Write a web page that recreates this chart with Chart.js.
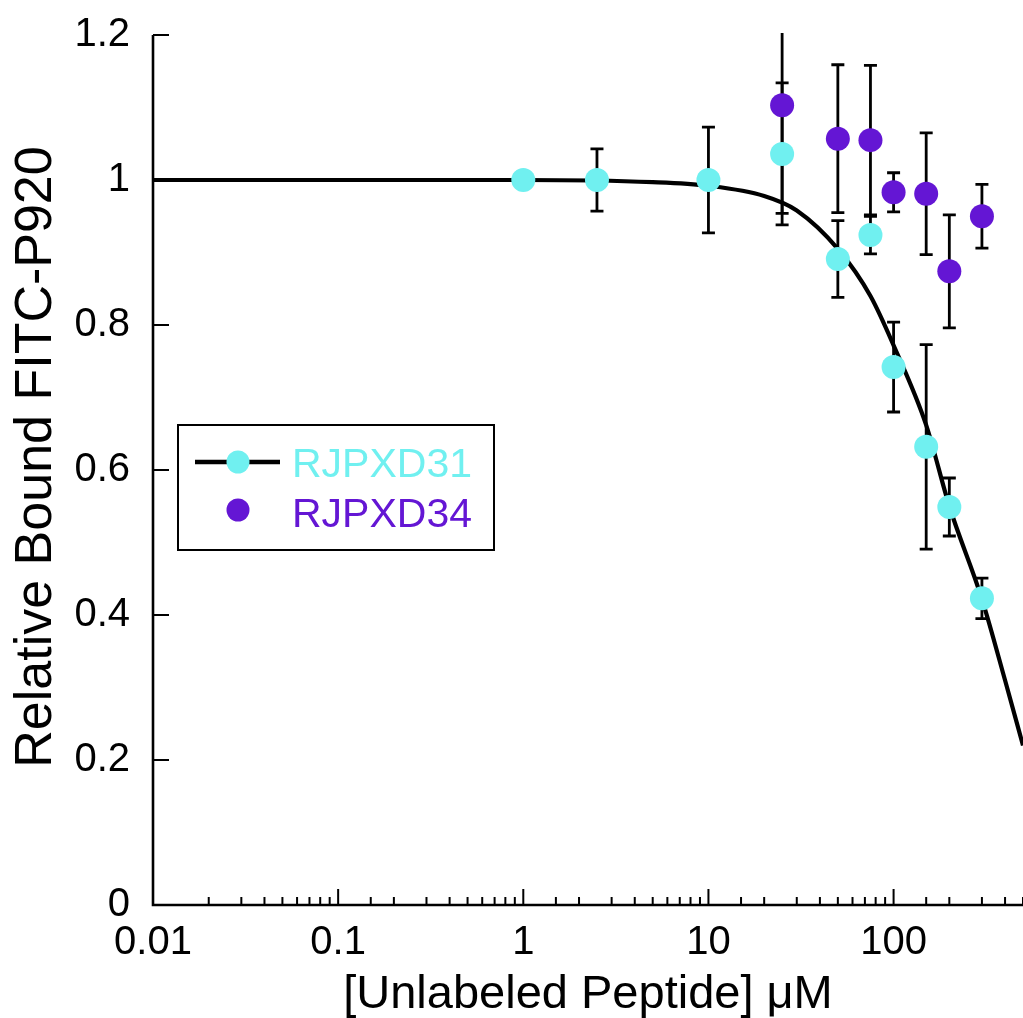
<!DOCTYPE html>
<html><head><meta charset="utf-8">
<script src="https://cdn.jsdelivr.net/npm/chart.js@4.4.1/dist/chart.umd.min.js"></script>
<style>html,body{margin:0;padding:0;background:#fff;}#wrap{width:1023px;height:1018px;}</style>
</head><body><div id="wrap"><canvas id="c" width="1023" height="1018"></canvas></div>
<script>
const seriesNames = ['RJPXD31', 'RJPXD34'];
const xAxisTitle = '[Unlabeled Peptide] \u03BCM';
const yAxisTitle = 'Relative Bound FITC-P920';
const xTickLabels = [0.01, 0.1, 1, 10, 100];
const yTickLabels = [0, 0.2, 0.4, 0.6, 0.8, 1, 1.2];

const cyanX = [1, 2.5, 10, 25, 50, 75, 100, 150, 200, 300];
const cyanY = [1.0, 1.0, 1.0, 1.036, 0.891, 0.924, 0.742, 0.632, 0.549, 0.423];
const cyanErr = [0, 0.043, 0.073, 0.098, 0.053, 0.026, 0.062, 0.141, 0.040, 0.028];

const purpleX = [25, 50, 75, 100, 150, 200, 300];
const purpleY = [1.103, 1.057, 1.055, 0.983, 0.981, 0.874, 0.950];
const purpleErr = [0.149, 0.102, 0.103, 0.027, 0.084, 0.078, 0.044];

const fitX = [0.01, 1, 5, 10, 20, 30, 50, 75, 100, 150, 200, 300, 400, 500];
const fitY = [1.0, 1.0, 0.997, 0.992, 0.978, 0.958, 0.905, 0.84, 0.772, 0.662, 0.55, 0.422, 0.31, 0.22];

const CYAN = '#70F0F0';
const PURPLE = '#6416D4';
const FONT = "'Liberation Sans', Arial, sans-serif";

const toPts = (xs, ys) => xs.map((x, i) => ({x: x, y: ys[i]}));
const errorSets = [
  {x: cyanX, y: cyanY, err: cyanErr},
  {x: purpleX, y: purpleY, err: purpleErr}
];

const isDecade = v => Math.abs(Math.log10(v) - Math.round(Math.log10(v))) < 1e-6;

const decor = {
  id: 'decor',
  beforeDatasetsDraw(chart) {
    const ctx = chart.ctx, xs = chart.scales.x, ys = chart.scales.y, a = chart.chartArea;
    ctx.save();
    ctx.beginPath();
    ctx.rect(a.left - 30, a.top - 2, a.right - a.left + 60, a.bottom - a.top + 4);
    ctx.clip();
    ctx.strokeStyle = '#000';
    ctx.lineWidth = 2.8;
    const cap = 6.5;
    errorSets.forEach(s => {
      s.x.forEach((xv, i) => {
        const e = s.err[i];
        if (!e) return;
        const px = xs.getPixelForValue(xv);
        const t = ys.getPixelForValue(s.y[i] + e);
        const b = ys.getPixelForValue(s.y[i] - e);
        ctx.beginPath();
        ctx.moveTo(px, t); ctx.lineTo(px, b);
        ctx.moveTo(px - cap, t); ctx.lineTo(px + cap, t);
        ctx.moveTo(px - cap, b); ctx.lineTo(px + cap, b);
        ctx.stroke();
      });
    });
    ctx.restore();
  },
  afterDraw(chart) {
    const ctx = chart.ctx, xs = chart.scales.x, ys = chart.scales.y, a = chart.chartArea;
    ctx.save();
    ctx.strokeStyle = '#000';
    ctx.lineWidth = 2.6;
    ctx.lineCap = 'butt';
    ctx.beginPath();
    ctx.moveTo(a.left, a.top); ctx.lineTo(a.left, a.bottom); ctx.lineTo(a.right, a.bottom);
    ctx.stroke();
    ctx.lineWidth = 2;
    ctx.beginPath();
    xs.ticks.forEach(t => {
      const px = xs.getPixelForValue(t.value);
      if (px < a.left - 0.5 || px > a.right + 0.5) return;
      const len = isDecade(t.value) ? 16 : 8;
      ctx.moveTo(px, a.bottom); ctx.lineTo(px, a.bottom - len);
    });
    ys.ticks.forEach(t => {
      const py = ys.getPixelForValue(t.value);
      ctx.moveTo(a.left, py); ctx.lineTo(a.left + 16, py);
    });
    ctx.stroke();

    // y axis title
    ctx.save();
    ctx.translate(37, 457);
    ctx.rotate(-Math.PI / 2);
    ctx.font = '52px ' + FONT;
    ctx.fillStyle = '#000';
    ctx.textAlign = 'center';
    ctx.textBaseline = 'middle';
    ctx.fillText(yAxisTitle, 0, 0);
    ctx.restore();

    // legend
    ctx.lineWidth = 2;
    ctx.strokeStyle = '#000';
    ctx.fillStyle = '#fff';
    ctx.fillRect(178, 425, 316, 125);
    ctx.strokeRect(178, 425, 316, 125);
    ctx.lineWidth = 4.5;
    ctx.beginPath(); ctx.moveTo(195, 462); ctx.lineTo(280, 462); ctx.stroke();
    ctx.fillStyle = CYAN;
    ctx.beginPath(); ctx.arc(238, 462, 11.5, 0, Math.PI * 2); ctx.fill();
    ctx.fillStyle = PURPLE;
    ctx.beginPath(); ctx.arc(238, 510, 11.5, 0, Math.PI * 2); ctx.fill();
    ctx.font = '41px ' + FONT;
    ctx.textBaseline = 'alphabetic';
    ctx.textAlign = 'left';
    ctx.fillStyle = CYAN;
    ctx.fillText(seriesNames[0], 292, 477);
    ctx.fillStyle = PURPLE;
    ctx.fillText(seriesNames[1], 292, 527);
    ctx.restore();
  }
};

new Chart(document.getElementById('c'), {
  type: 'scatter',
  data: {
    datasets: [
      {
        label: 'fit',
        type: 'line',
        data: toPts(fitX, fitY),
        borderColor: '#000',
        borderWidth: 4.2,
        pointRadius: 0,
        cubicInterpolationMode: 'monotone',
        fill: false,
        order: 3
      },
      {
        label: seriesNames[0],
        data: toPts(cyanX, cyanY),
        backgroundColor: CYAN,
        borderWidth: 0,
        pointRadius: 12,
        order: 2
      },
      {
        label: seriesNames[1],
        data: toPts(purpleX, purpleY),
        backgroundColor: PURPLE,
        borderWidth: 0,
        pointRadius: 12,
        order: 1
      }
    ]
  },
  options: {
    responsive: false,
    devicePixelRatio: 1,
    animation: false,
    layout: {autoPadding: false, padding: {top: 35, right: 0, left: 0, bottom: 0}},
    plugins: {legend: {display: false}, tooltip: {enabled: false}},
    scales: {
      x: {
        type: 'logarithmic',
        min: 0.01,
        max: 500,
        grid: {display: false, drawTicks: false},
        border: {display: false},
        afterFit: s => {
          s.height = 113;
          s.paddingLeft = 0; s.paddingRight = 0; s.paddingTop = 0; s.paddingBottom = 0;
        },
        ticks: {
          autoSkip: false,
          maxRotation: 0,
          padding: 14,
          color: '#000',
          font: {family: FONT, size: 40},
          callback: v => {
            const m = xTickLabels.find(l => Math.abs(l - v) < l * 1e-6);
            return m !== undefined ? String(m) : '';
          }
        },
        title: {
          display: true,
          text: xAxisTitle,
          color: '#000',
          font: {family: FONT, size: 47},
          padding: {top: 0, bottom: -5}
        }
      },
      y: {
        type: 'linear',
        min: 0,
        max: 1.2,
        grid: {display: false, drawTicks: false},
        border: {display: false},
        afterFit: s => {
          s.width = 153;
          s.paddingLeft = 0; s.paddingRight = 0; s.paddingTop = 0; s.paddingBottom = 0;
        },
        afterBuildTicks: s => { s.ticks = yTickLabels.map(v => ({value: v})); },
        ticks: {
          padding: 23,
          color: '#000',
          font: {family: FONT, size: 40},
          callback: v => String(v)
        },
        title: {display: false, text: yAxisTitle}
      }
    }
  },
  plugins: [decor]
});
</script>
</body></html>
